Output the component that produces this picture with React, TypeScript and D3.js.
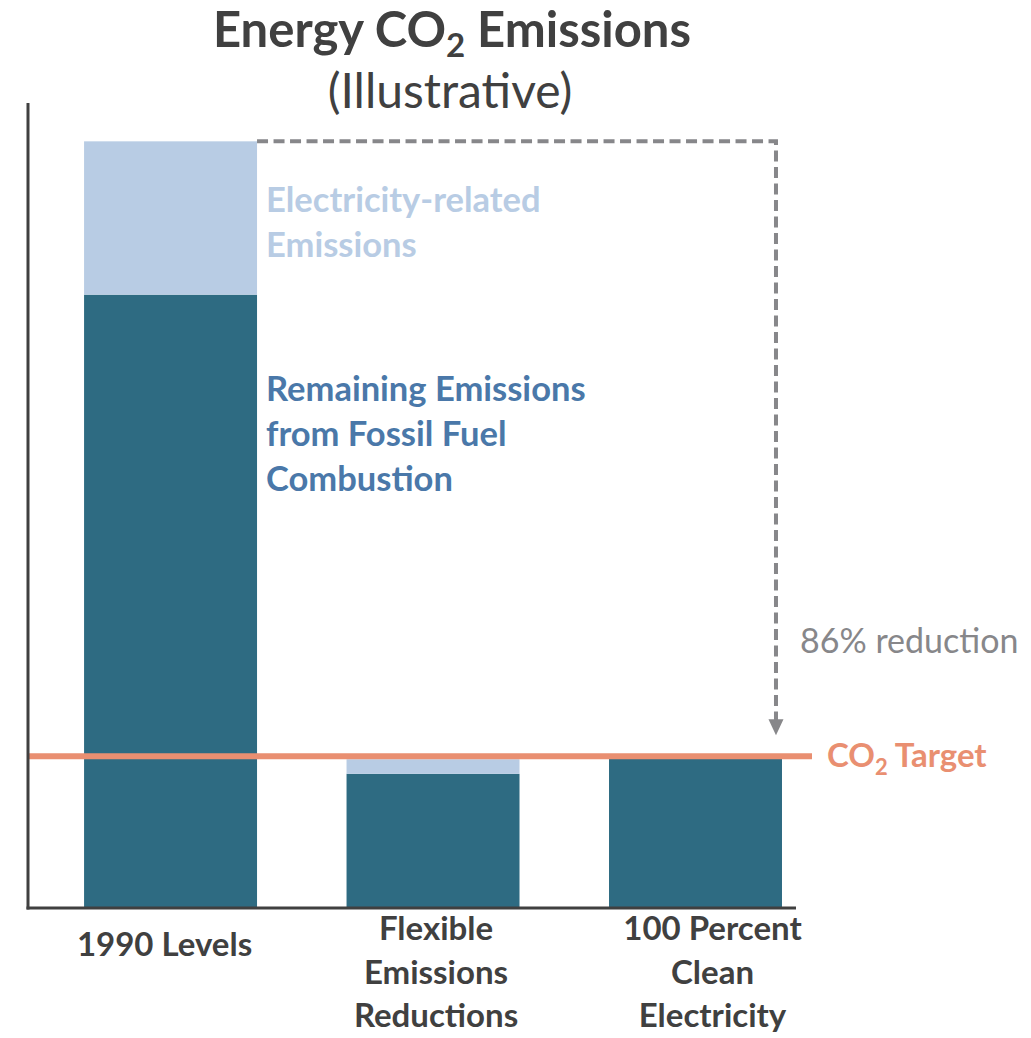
import React from "react";
import * as d3 from "d3";

const categories = ["1990 Levels", "Flexible Emissions Reductions", "100 Percent Clean Electricity"];
const categoryLines = [["1990 Levels"], ["Flexible", "Emissions", "Reductions"], ["100 Percent", "Clean", "Electricity"]];
const remainingEmissions = [80, 17.5, 19.6];
const electricityEmissions = [20, 1.9, 0];
const co2Target = 19.8;
const reductionLabel = "86% reduction";

const W = 1031;
const H = 1038;
const FONT = "Lato, 'Noto Sans', sans-serif";
const DARK = "#2e6b82";
const LIGHT = "#b8cce4";
const ORANGE = "#e98f71";
const GREY = "#87878a";
const AXIS = "#404040";

export default function App() {
  const x = d3.scaleBand<string>().domain(categories).range([28, 796]).paddingInner(0.341).paddingOuter(0.1335).align(0.8);
  const y = d3.scaleLinear().domain([0, 105]).range([908, 103]);
  const bw = x.bandwidth();
  const labelOffsets = [-6, 3, 17];

  const stacked = categories.map((c, i) => ({
    c,
    x0: x(c) as number,
    dark: remainingEmissions[i],
    total: remainingEmissions[i] + electricityEmissions[i],
  }));

  const first = stacked[0];
  const last = stacked[stacked.length - 1];
  const arrowX = last.x0 + bw - 6;
  const topY = y(first.total);
  const tipY = y(co2Target) - 21;
  const dashPath = d3.line()([
    [first.x0 + bw, topY],
    [arrowX, topY],
    [arrowX, tipY - 12],
  ]) as string;

  const targetY = y(co2Target);

  return (
    <svg width={W} height={H} style={{ display: "block", position: "absolute", left: 0, top: 0 }}>
      <rect width={W} height={H} fill="#fff" />
      <text x={452} y={47} textAnchor="middle" fontFamily={FONT} fontWeight={700} fontSize={49} fill="#404040">
        Energy CO<tspan dy={10} fontSize={33}>2</tspan><tspan dy={-10}> Emissions</tspan>
      </text>
      <text x={450} y={108} textAnchor="middle" fontFamily={FONT} fontSize={48} fill="#404040">
        (Illustrative)
      </text>

      {stacked.map((d) => (
        <g key={d.c}>
          <rect x={d.x0} y={y(d.dark)} width={bw} height={y(0) - y(d.dark)} fill={DARK} />
          {d.total > d.dark && (
            <rect x={d.x0} y={y(d.total)} width={bw} height={y(d.dark) - y(d.total)} fill={LIGHT} />
          )}
        </g>
      ))}

      <path d={dashPath} fill="none" stroke={GREY} strokeWidth={4} strokeDasharray="11 5.5" />
      <path d={`M${arrowX - 7.5},${tipY - 16} L${arrowX + 7.5},${tipY - 16} L${arrowX},${tipY} Z`} fill={GREY} />
      <text x={800} y={653} fontFamily={FONT} fontSize={34} fill={GREY}>
        {reductionLabel}
      </text>

      <line x1={28} x2={812} y1={targetY} y2={targetY} stroke={ORANGE} strokeWidth={6} />
      <text x={827} y={767} fontFamily={FONT} fontWeight={700} fontSize={33} fill={ORANGE}>
        CO<tspan dy={8} fontSize={22}>2</tspan><tspan dy={-8}> Target</tspan>
      </text>

      <g fontFamily={FONT} fontWeight={700} fontSize={34.5}>
        <text x={first.x0 + bw + 9} y={212} fill={LIGHT}>Electricity-related</text>
        <text x={first.x0 + bw + 9} y={257} fill={LIGHT}>Emissions</text>
        <text x={first.x0 + bw + 9} y={401} fill="#4a78a9">Remaining Emissions</text>
        <text x={first.x0 + bw + 9} y={446} fill="#4a78a9">from Fossil Fuel</text>
        <text x={first.x0 + bw + 9} y={491} fill="#4a78a9">Combustion</text>
      </g>

      <line x1={28} x2={28} y1={y.range()[1]} y2={y(0) + 1.5} stroke={AXIS} strokeWidth={3} />
      <line x1={26.5} x2={x.range()[1]} y1={y(0)} y2={y(0)} stroke={AXIS} strokeWidth={3} />

      <g fontFamily={FONT} fontWeight={700} fontSize={33} fill={AXIS} textAnchor="middle">
        {categoryLines.map((lines, i) => {
          const cx = (x(categories[i]) as number) + bw / 2 + labelOffsets[i];
          const base = lines.length === 1 ? 956 : 940;
          return lines.map((ln, j) => (
            <text key={i + "-" + j} x={cx} y={base + j * 43.5}>
              {ln}
            </text>
          ));
        })}
      </g>
    </svg>
  );
}
